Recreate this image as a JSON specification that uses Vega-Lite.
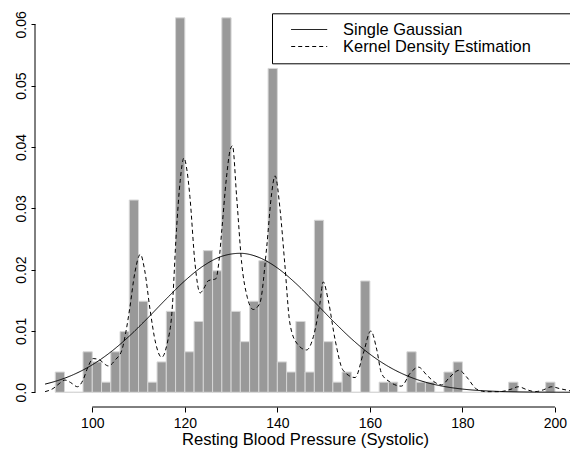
{
  "$schema": "https://vega.github.io/schema/vega-lite/v6.json",
  "autosize": {"type": "none"},
  "width": 535,
  "height": 405,
  "padding": {"left": 35, "top": 2, "right": 0, "bottom": 48},
  "background": "white",
  "config": {
    "view": {"stroke": null},
    "font": "Liberation Sans",
    "axis": {
      "grid": false,
      "domain": false,
      "tickColor": "black",
      "tickWidth": 1,
      "labelColor": "black",
      "labelFont": "Liberation Sans",
      "labelFontSize": 14,
      "titleFont": "Liberation Sans",
      "titleFontSize": 16.6,
      "titleFontWeight": "normal",
      "titleColor": "black"
    },
    "axisX": {"tickSize": 5, "labelPadding": 4, "labelBaseline": "top", "titlePadding": 1, "titleX": 270, "labelOverlap": false},
    "axisY": {"tickSize": 4, "labelPadding": 6, "labelAngle": 270, "labelAlign": "center", "labelBaseline": "alphabetic", "labelOverlap": false}
  },
  "datasets": {
    "bins": [
      {"lo": 92, "hi": 94, "density": 0.0033},
      {"lo": 94, "hi": 96, "density": 0},
      {"lo": 96, "hi": 98, "density": 0},
      {"lo": 98, "hi": 100, "density": 0.0066},
      {"lo": 100, "hi": 102, "density": 0.00495},
      {"lo": 102, "hi": 104, "density": 0.00165},
      {"lo": 104, "hi": 106, "density": 0.0066},
      {"lo": 106, "hi": 108, "density": 0.0099},
      {"lo": 108, "hi": 110, "density": 0.03135},
      {"lo": 110, "hi": 112, "density": 0.01485},
      {"lo": 112, "hi": 114, "density": 0.00165},
      {"lo": 114, "hi": 116, "density": 0.00495},
      {"lo": 116, "hi": 118, "density": 0.0132},
      {"lo": 118, "hi": 120, "density": 0.06106},
      {"lo": 120, "hi": 122, "density": 0.0066},
      {"lo": 122, "hi": 124, "density": 0.01155},
      {"lo": 124, "hi": 126, "density": 0.0231},
      {"lo": 126, "hi": 128, "density": 0.0198},
      {"lo": 128, "hi": 130, "density": 0.06106},
      {"lo": 130, "hi": 132, "density": 0.0132},
      {"lo": 132, "hi": 134, "density": 0.00825},
      {"lo": 134, "hi": 136, "density": 0.01485},
      {"lo": 136, "hi": 138, "density": 0.02145},
      {"lo": 138, "hi": 140, "density": 0.05281},
      {"lo": 140, "hi": 142, "density": 0.00495},
      {"lo": 142, "hi": 144, "density": 0.0033},
      {"lo": 144, "hi": 146, "density": 0.01155},
      {"lo": 146, "hi": 148, "density": 0.0033},
      {"lo": 148, "hi": 150, "density": 0.02805},
      {"lo": 150, "hi": 152, "density": 0.00825},
      {"lo": 152, "hi": 154, "density": 0.00165},
      {"lo": 154, "hi": 156, "density": 0.0033},
      {"lo": 156, "hi": 158, "density": 0},
      {"lo": 158, "hi": 160, "density": 0.01815},
      {"lo": 160, "hi": 162, "density": 0},
      {"lo": 162, "hi": 164, "density": 0.00165},
      {"lo": 164, "hi": 166, "density": 0.00165},
      {"lo": 166, "hi": 168, "density": 0},
      {"lo": 168, "hi": 170, "density": 0.0066},
      {"lo": 170, "hi": 172, "density": 0.00165},
      {"lo": 172, "hi": 174, "density": 0.00165},
      {"lo": 174, "hi": 176, "density": 0},
      {"lo": 176, "hi": 178, "density": 0.0033},
      {"lo": 178, "hi": 180, "density": 0.00495},
      {"lo": 180, "hi": 182, "density": 0},
      {"lo": 182, "hi": 184, "density": 0},
      {"lo": 184, "hi": 186, "density": 0},
      {"lo": 186, "hi": 188, "density": 0},
      {"lo": 188, "hi": 190, "density": 0},
      {"lo": 190, "hi": 192, "density": 0.00165},
      {"lo": 192, "hi": 194, "density": 0},
      {"lo": 194, "hi": 196, "density": 0},
      {"lo": 196, "hi": 198, "density": 0},
      {"lo": 198, "hi": 200, "density": 0.00165}
    ],
    "curves": [
      {"series": "Single Gaussian", "x": 89.8, "density": 0.001334},
      {"series": "Single Gaussian", "x": 92, "density": 0.001783},
      {"series": "Single Gaussian", "x": 96, "density": 0.002901},
      {"series": "Single Gaussian", "x": 100, "density": 0.004481},
      {"series": "Single Gaussian", "x": 104, "density": 0.006575},
      {"series": "Single Gaussian", "x": 108, "density": 0.009161},
      {"series": "Single Gaussian", "x": 112, "density": 0.012123},
      {"series": "Single Gaussian", "x": 116, "density": 0.015234},
      {"series": "Single Gaussian", "x": 120, "density": 0.01818},
      {"series": "Single Gaussian", "x": 124, "density": 0.020604},
      {"series": "Single Gaussian", "x": 128, "density": 0.022174},
      {"series": "Single Gaussian", "x": 132, "density": 0.022663},
      {"series": "Single Gaussian", "x": 136, "density": 0.021997},
      {"series": "Single Gaussian", "x": 140, "density": 0.020276},
      {"series": "Single Gaussian", "x": 144, "density": 0.017749},
      {"series": "Single Gaussian", "x": 148, "density": 0.014754},
      {"series": "Single Gaussian", "x": 152, "density": 0.011647},
      {"series": "Single Gaussian", "x": 156, "density": 0.008732},
      {"series": "Single Gaussian", "x": 160, "density": 0.006217},
      {"series": "Single Gaussian", "x": 164, "density": 0.004203},
      {"series": "Single Gaussian", "x": 168, "density": 0.002699},
      {"series": "Single Gaussian", "x": 172, "density": 0.001646},
      {"series": "Single Gaussian", "x": 176, "density": 0.000953},
      {"series": "Single Gaussian", "x": 180, "density": 0.000524},
      {"series": "Single Gaussian", "x": 184, "density": 0.000274},
      {"series": "Single Gaussian", "x": 188, "density": 0.000136},
      {"series": "Single Gaussian", "x": 192, "density": 0.000064},
      {"series": "Single Gaussian", "x": 196, "density": 0.000029},
      {"series": "Single Gaussian", "x": 200, "density": 0.000012},
      {"series": "Single Gaussian", "x": 204.2, "density": 0.000005},
      {"series": "Kernel Density Estimation", "x": 89.8, "density": 0.0001},
      {"series": "Kernel Density Estimation", "x": 91.5, "density": 0.0006},
      {"series": "Kernel Density Estimation", "x": 93.0, "density": 0.0015},
      {"series": "Kernel Density Estimation", "x": 94.1, "density": 0.002},
      {"series": "Kernel Density Estimation", "x": 95.3, "density": 0.0016},
      {"series": "Kernel Density Estimation", "x": 96.8, "density": 0.0009},
      {"series": "Kernel Density Estimation", "x": 98.0, "density": 0.002},
      {"series": "Kernel Density Estimation", "x": 99.0, "density": 0.004},
      {"series": "Kernel Density Estimation", "x": 100.2, "density": 0.0055},
      {"series": "Kernel Density Estimation", "x": 101.5, "density": 0.0053},
      {"series": "Kernel Density Estimation", "x": 103.5, "density": 0.0043},
      {"series": "Kernel Density Estimation", "x": 105.0, "density": 0.0053},
      {"series": "Kernel Density Estimation", "x": 106.4, "density": 0.0069},
      {"series": "Kernel Density Estimation", "x": 107.3, "density": 0.01},
      {"series": "Kernel Density Estimation", "x": 108.1, "density": 0.0137},
      {"series": "Kernel Density Estimation", "x": 109.2, "density": 0.0195},
      {"series": "Kernel Density Estimation", "x": 110.4, "density": 0.0225},
      {"series": "Kernel Density Estimation", "x": 111.3, "density": 0.02},
      {"series": "Kernel Density Estimation", "x": 112.5, "density": 0.0134},
      {"series": "Kernel Density Estimation", "x": 113.7, "density": 0.008},
      {"series": "Kernel Density Estimation", "x": 115.0, "density": 0.0057},
      {"series": "Kernel Density Estimation", "x": 116.2, "density": 0.008},
      {"series": "Kernel Density Estimation", "x": 117.2, "density": 0.0129},
      {"series": "Kernel Density Estimation", "x": 118.2, "density": 0.0265},
      {"series": "Kernel Density Estimation", "x": 119.0, "density": 0.0345},
      {"series": "Kernel Density Estimation", "x": 119.8, "density": 0.0382},
      {"series": "Kernel Density Estimation", "x": 120.5, "density": 0.036},
      {"series": "Kernel Density Estimation", "x": 121.1, "density": 0.0319},
      {"series": "Kernel Density Estimation", "x": 122.2, "density": 0.021},
      {"series": "Kernel Density Estimation", "x": 123.3, "density": 0.0162},
      {"series": "Kernel Density Estimation", "x": 124.0, "density": 0.0168},
      {"series": "Kernel Density Estimation", "x": 125.1, "density": 0.0182},
      {"series": "Kernel Density Estimation", "x": 126.7, "density": 0.0185},
      {"series": "Kernel Density Estimation", "x": 127.4, "density": 0.0215},
      {"series": "Kernel Density Estimation", "x": 128.0, "density": 0.0265},
      {"series": "Kernel Density Estimation", "x": 129.0, "density": 0.035},
      {"series": "Kernel Density Estimation", "x": 129.8, "density": 0.0395},
      {"series": "Kernel Density Estimation", "x": 130.3, "density": 0.0402},
      {"series": "Kernel Density Estimation", "x": 131.2, "density": 0.0319},
      {"series": "Kernel Density Estimation", "x": 132.3, "density": 0.021},
      {"series": "Kernel Density Estimation", "x": 133.5, "density": 0.0155},
      {"series": "Kernel Density Estimation", "x": 134.8, "density": 0.0135},
      {"series": "Kernel Density Estimation", "x": 136.2, "density": 0.0145},
      {"series": "Kernel Density Estimation", "x": 137.7, "density": 0.0237},
      {"series": "Kernel Density Estimation", "x": 138.7, "density": 0.032},
      {"series": "Kernel Density Estimation", "x": 139.5, "density": 0.0353},
      {"series": "Kernel Density Estimation", "x": 140.6, "density": 0.0297},
      {"series": "Kernel Density Estimation", "x": 141.6, "density": 0.021},
      {"series": "Kernel Density Estimation", "x": 142.7, "density": 0.0113},
      {"series": "Kernel Density Estimation", "x": 144.2, "density": 0.008},
      {"series": "Kernel Density Estimation", "x": 146.3, "density": 0.0069},
      {"series": "Kernel Density Estimation", "x": 147.8, "density": 0.0091},
      {"series": "Kernel Density Estimation", "x": 149.2, "density": 0.0145},
      {"series": "Kernel Density Estimation", "x": 149.9, "density": 0.018},
      {"series": "Kernel Density Estimation", "x": 151.0, "density": 0.015},
      {"series": "Kernel Density Estimation", "x": 152.5, "density": 0.0085},
      {"series": "Kernel Density Estimation", "x": 154.2, "density": 0.0036},
      {"series": "Kernel Density Estimation", "x": 156.8, "density": 0.0024},
      {"series": "Kernel Density Estimation", "x": 158.6, "density": 0.0064},
      {"series": "Kernel Density Estimation", "x": 160.2, "density": 0.01},
      {"series": "Kernel Density Estimation", "x": 161.5, "density": 0.0069},
      {"series": "Kernel Density Estimation", "x": 162.5, "density": 0.0031},
      {"series": "Kernel Density Estimation", "x": 164.3, "density": 0.0017},
      {"series": "Kernel Density Estimation", "x": 166.8, "density": 0.001},
      {"series": "Kernel Density Estimation", "x": 168.7, "density": 0.0031},
      {"series": "Kernel Density Estimation", "x": 170.5, "density": 0.0041},
      {"series": "Kernel Density Estimation", "x": 172.3, "density": 0.0028},
      {"series": "Kernel Density Estimation", "x": 174.1, "density": 0.0016},
      {"series": "Kernel Density Estimation", "x": 175.5, "density": 0.0012},
      {"series": "Kernel Density Estimation", "x": 177.3, "density": 0.0025},
      {"series": "Kernel Density Estimation", "x": 179.3, "density": 0.0036},
      {"series": "Kernel Density Estimation", "x": 180.9, "density": 0.0025},
      {"series": "Kernel Density Estimation", "x": 183.1, "density": 0.0005},
      {"series": "Kernel Density Estimation", "x": 185.2, "density": 0.0001},
      {"series": "Kernel Density Estimation", "x": 188.0, "density": 0.0001},
      {"series": "Kernel Density Estimation", "x": 190.5, "density": 0.0005},
      {"series": "Kernel Density Estimation", "x": 192.1, "density": 0.0009},
      {"series": "Kernel Density Estimation", "x": 194.0, "density": 0.0004},
      {"series": "Kernel Density Estimation", "x": 195.7, "density": 0.0001},
      {"series": "Kernel Density Estimation", "x": 197.5, "density": 0.0004},
      {"series": "Kernel Density Estimation", "x": 199.3, "density": 0.0009},
      {"series": "Kernel Density Estimation", "x": 201.0, "density": 0.0006},
      {"series": "Kernel Density Estimation", "x": 202.9, "density": 0.0003},
      {"series": "Kernel Density Estimation", "x": 204.2, "density": 0.0001}
    ]
  },
  "layer": [
    {
      "data": {"name": "bins"},
      "mark": {"type": "rect", "fill": "#999999", "stroke": "#d6d6d6", "strokeWidth": 1},
      "encoding": {
        "x": {"field": "lo", "type": "quantitative", "title": "Resting Blood Pressure (Systolic)",
              "scale": {"domain": [87.62, 203.25], "nice": false, "zero": false},
              "axis": {"values": [100, 120, 140, 160, 180, 200]}},
        "x2": {"field": "hi"},
        "y": {"field": "density", "type": "quantitative", "title": null,
              "scale": {"domain": [-0.0024, 0.06364], "nice": false, "zero": false},
              "axis": {"values": [0, 0.01, 0.02, 0.03, 0.04, 0.05, 0.06],
                       "labelExpr": "datum.value === 0 ? '0.0' : format(datum.value, '.2f')"}},
        "y2": {"datum": 0}
      }
    },
    {
      "data": {"name": "curves"},
      "mark": {"type": "line", "color": "black", "strokeWidth": 1, "interpolate": "monotone", "clip": true},
      "encoding": {
        "x": {"field": "x", "type": "quantitative", "title": "Resting Blood Pressure (Systolic)",
              "scale": {"domain": [87.62, 203.25], "nice": false, "zero": false}},
        "y": {"field": "density", "type": "quantitative", "title": null,
              "scale": {"domain": [-0.0024, 0.06364], "nice": false, "zero": false}},
        "strokeDash": {"field": "series", "type": "nominal",
                       "scale": {"domain": ["Single Gaussian", "Kernel Density Estimation"], "range": [[1, 0], [4, 3]]},
                       "legend": {
                         "title": null,
                         "orient": "none",
                         "legendX": 237,
                         "legendY": 11.3,
                         "strokeColor": "black",
                         "fillColor": "white",
                         "padding": 8,
                         "symbolType": "M-3,0H3M45,0",
                         "symbolSize": 144,
                         "symbolOffset": 21,
                         "symbolStrokeColor": "black",
                         "symbolStrokeWidth": 1,
                         "labelOffset": 25.7,
                         "labelFont": "Liberation Sans",
                         "labelFontSize": 16.4,
                         "labelColor": "black",
                         "labelLimit": 500,
                         "rowPadding": -1.8,
                         "cornerRadius": 0
                       }}
      }
    },
    {
      "data": {"values": [{}]},
      "mark": {"type": "rule", "color": "black", "strokeWidth": 1},
      "encoding": {
        "x": {"datum": 100, "type": "quantitative", "title": "Resting Blood Pressure (Systolic)"},
        "x2": {"datum": 200},
        "y": {"datum": -0.0024, "type": "quantitative", "title": null}
      }
    },
    {
      "data": {"values": [{}]},
      "mark": {"type": "rule", "color": "black", "strokeWidth": 1},
      "encoding": {
        "x": {"datum": 87.62, "type": "quantitative", "title": "Resting Blood Pressure (Systolic)"},
        "y": {"datum": 0, "type": "quantitative", "title": null},
        "y2": {"datum": 0.06}
      }
    }
  ]
}
